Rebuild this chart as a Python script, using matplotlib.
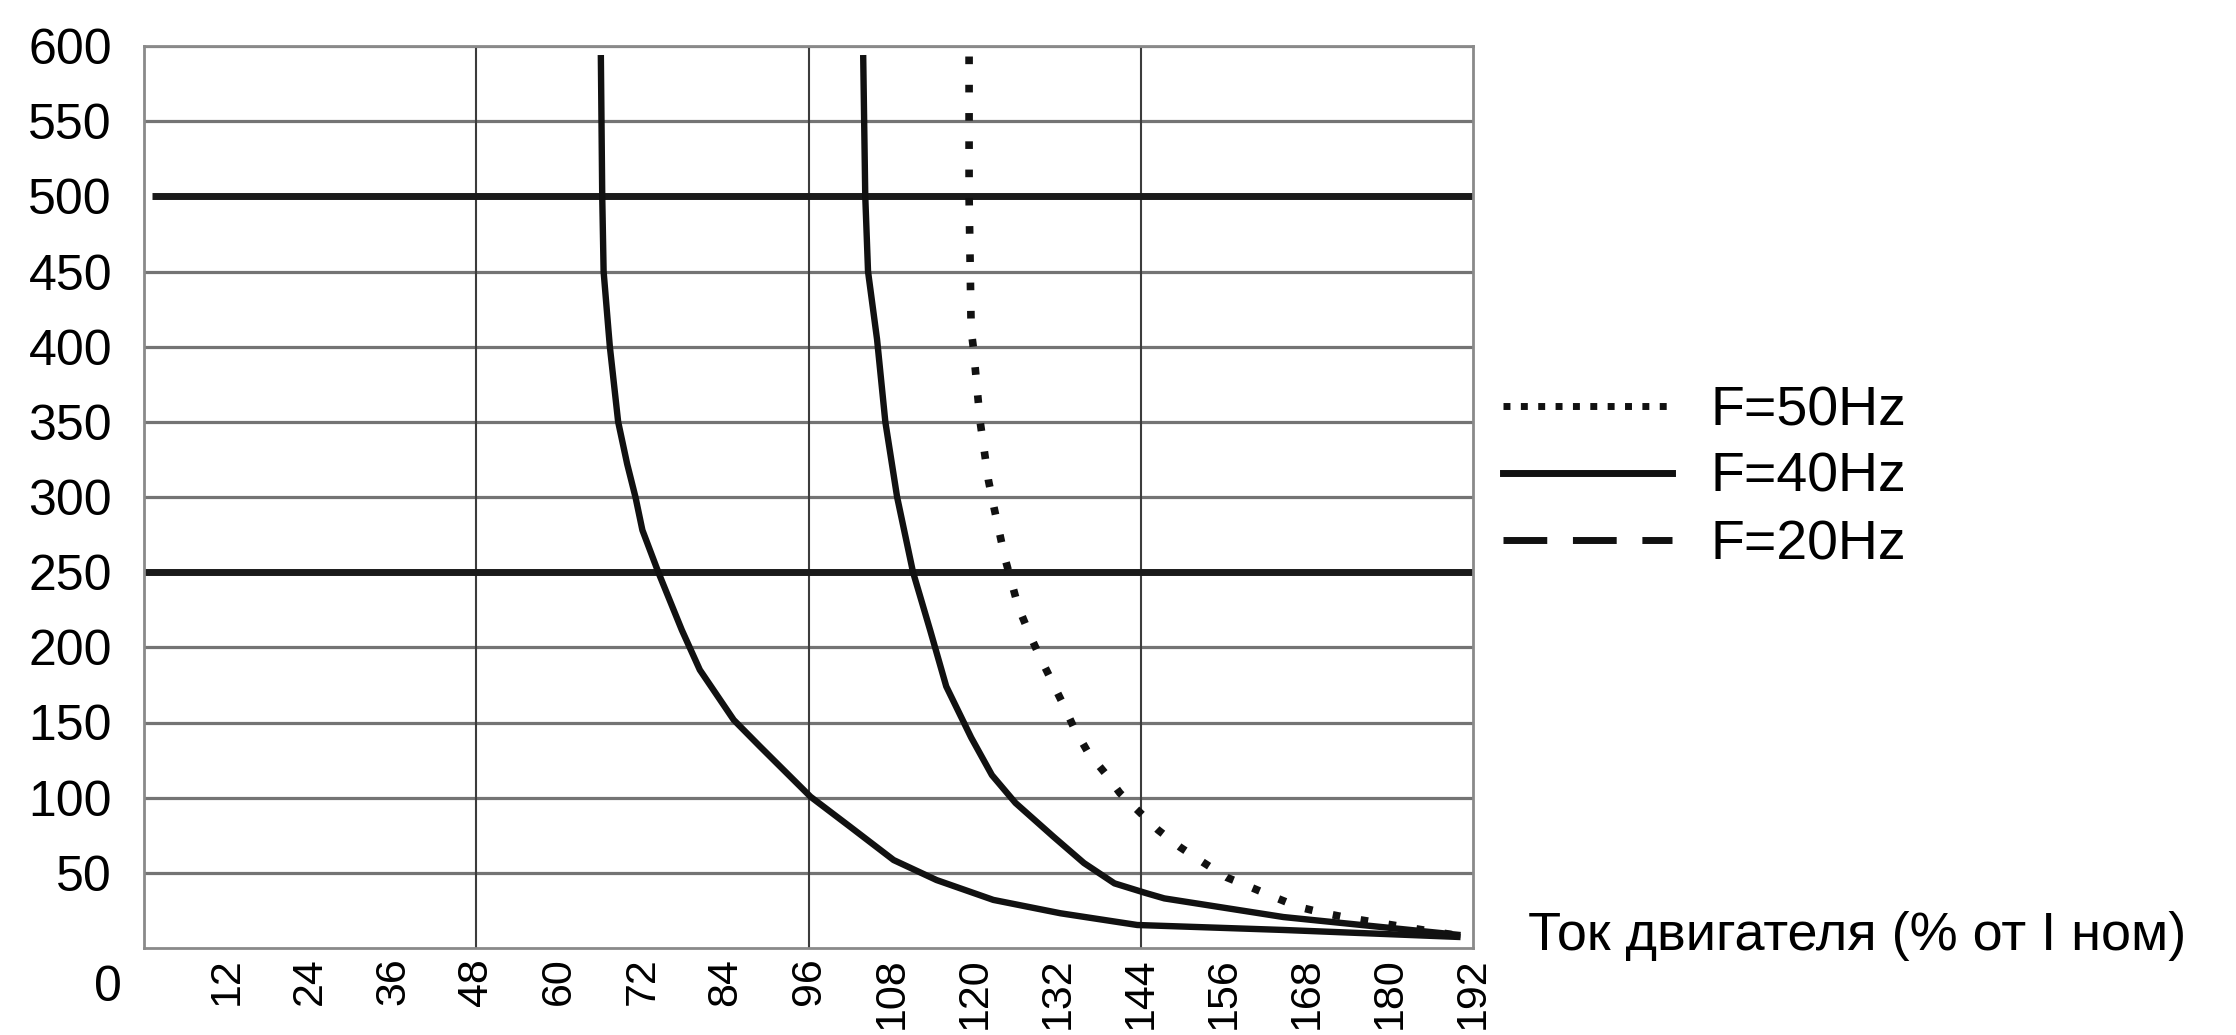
import matplotlib
matplotlib.use("Agg")
import matplotlib.pyplot as plt
from matplotlib.lines import Line2D

plt.rcParams['font.family'] = ['Liberation Sans', 'DejaVu Sans']

# ---- data ----
current_20 = [66.0, 66.2, 66.4, 67.1, 67.3, 68.5, 69.8, 71.0, 72.0, 74.3, 77.7, 80.3, 85.2,
              89.0, 96.3, 102.0, 108.3, 114.5, 122.7, 132.4, 143.5, 164.6, 190.2]
time_20 = [594, 500, 450, 411, 400, 350, 322, 300, 278, 250, 211.5, 185, 151.7,
           134, 100.6, 80.7, 58.5, 45.2, 32, 23.1, 15.3, 12, 7.3]

current_40 = [103.9, 104.2, 104.6, 105.9, 107.1, 108.8, 111.1, 113.6, 115.9, 119.5, 122.5,
              125.9, 131.4, 135.8, 140.2, 144.7, 147.4, 164.6, 190.2]
time_40 = [594, 500, 450, 405, 350, 300, 250, 211, 174, 140, 115,
           96.5, 74, 56.5, 43, 36.6, 33, 20.6, 8.6]

current_50 = [119.2, 119.2, 119.5, 119.8, 120.8, 122.0, 122.8, 124.4, 126.3, 128.0, 129.5,
              132.8, 134.4, 136.4, 138.9, 141.0, 143.8, 146.5, 149.7, 153.0, 156.4,
              159.8, 163.2, 166.8, 170.4, 174.0, 190.2]
time_50 = [593, 500, 411, 400, 350, 311, 293, 259, 227, 208, 193,
           162, 146, 130, 116, 103, 90.5, 78.5, 67, 57, 47,
           40.6, 34, 27.3, 23.3, 20, 8]

y_ticks = list(range(50, 601, 50))
x_ticks = list(range(12, 193, 12))
x_grid = [48, 96, 144]
limit_lines = [250, 500]
legend_labels = ["F=50Hz", "F=40Hz", "F=20Hz"]
x_label = "Ток двигателя (% от I ном)"

# ---- figure ----
W, H = 2236, 1035
fig = plt.figure(figsize=(W / 100, H / 100), dpi=100)
ax = fig.add_axes([144 / W, 1 - 948 / H, (1473 - 144) / W, (948 - 46) / H])
ax.set_xlim(0, 192)
ax.set_ylim(0, 600)

for y in y_ticks:
    if y not in limit_lines:
        ax.axhline(y, color='#747474', lw=2.3, zorder=1)
for x in x_grid:
    ax.axvline(x, color='#3c3c3c', lw=1.5, zorder=1)
ax.hlines(limit_lines, [0, 1.2], 192, colors='#1a1a1a', lw=5, zorder=2)

ax.plot(current_20, time_20, color='#111111', lw=4.6, solid_joinstyle='round',
        solid_capstyle='butt', zorder=3)
ax.plot(current_40, time_40, color='#111111', lw=4.6, solid_joinstyle='round',
        solid_capstyle='butt', zorder=3)
ax.plot(current_50, time_50, color='#111111', lw=5.5, linestyle=(0, (1, 2.7)), zorder=3)

for s in ax.spines.values():
    s.set_color('#8a8a8a')
    s.set_linewidth(2)

ax.set_yticks(y_ticks)
ax.set_yticklabels([str(v) for v in y_ticks], fontsize=36)
ax.tick_params(axis='y', length=0, pad=23)
ax.set_xticks(x_ticks)
ax.set_xticklabels([str(v) for v in x_ticks], fontsize=31, rotation=90)
ax.tick_params(axis='x', length=0, pad=7)

fig.text(108 / W, 1 - 988 / H, "0", fontsize=36, ha='center', va='center')
fig.text(1528 / W, 1 - 950 / H, x_label, fontsize=39, ha='left', va='baseline')

handles = [
    Line2D([], [], color='#111111', lw=5, linestyle=(0, (1, 1.5))),
    Line2D([], [], color='#111111', lw=5, linestyle='-'),
    Line2D([], [], color='#111111', lw=5, linestyle=(0, (6.3, 3.7))),
]
fig.legend(handles, legend_labels, loc='center left',
           bbox_to_anchor=(1503 / W, 1 - 478 / H), bbox_transform=fig.transFigure,
           frameon=False, fontsize=40, borderpad=0, borderaxespad=0,
           handlelength=3.05, handletextpad=0.68, labelspacing=0.27)

fig.savefig("out.png", dpi=100)
